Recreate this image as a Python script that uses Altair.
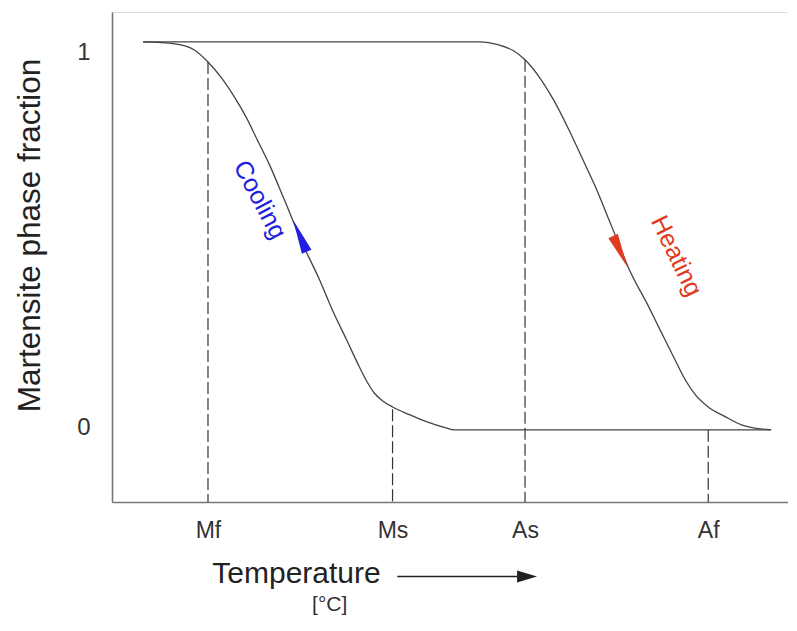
import altair as alt
import pandas as pd

# Hysteresis loop (temperature in arbitrary units 0-100, fraction 0-1)
heat_x = [4.6, 54.3, 57.2, 59.4, 61.1, 63.1, 65.3, 67.6, 69.8, 71.7, 73.5, 74.9, 76.4,
          79.4, 81.3, 83.3, 84.8, 86.3, 88.2, 90.7, 93.1, 95.6, 97.5]
heat_y = [1.0, 1.0, 0.992, 0.977, 0.954, 0.912, 0.851, 0.773, 0.691, 0.619, 0.542, 0.482,
          0.418, 0.317, 0.250, 0.180, 0.129, 0.090, 0.059, 0.034, 0.013, 0.003, 0.0]
cool_x = [97.5, 50.6, 49.4, 46.5, 44.0, 41.5, 40.0, 38.8, 37.5, 36.6, 34.7, 32.6, 30.7,
          28.2, 25.5, 23.3, 21.5, 19.9, 18.1, 16.2, 14.2, 12.2, 9.3, 4.6]
cool_y = [0.0, 0.0, 0.005, 0.021, 0.039, 0.059, 0.075, 0.095, 0.131, 0.162, 0.232, 0.309,
          0.387, 0.479, 0.593, 0.683, 0.747, 0.804, 0.858, 0.907, 0.948, 0.979, 0.995, 1.0]

# Transformation temperatures and where their dashed guides end
temp_names = ["Mf", "Ms", "As", "Af"]
temp_x = [14.2, 41.5, 61.1, 88.2]
temp_top = [0.948, 0.053, 0.954, 0.0]

y_min, y_max = -0.186, 1.077

# Direction arrows and labels on the curves
arrow_x = [27.8, 75.2]
arrow_y = [0.50, 0.459]
arrow_angle = [337, 155]
arrow_color = ["#2020e0", "#e03a22"]

note_text = ["Cooling", "Heating"]
note_x = [21.9, 83.5]
note_y = [0.593, 0.448]
note_angle = [62, 64]

# Temperature arrow and unit under the axis
t_arrow_x = [42.2, 60.9]
t_arrow_y = -0.378
t_head_x = 61.4
unit_x = 32.2
unit_y = -0.468

rows = []
for i, (x, y) in enumerate(zip(heat_x, heat_y)):
    rows.append({"branch": "heat", "i": i, "x": x, "y": y})
for i, (x, y) in enumerate(zip(cool_x, cool_y)):
    rows.append({"branch": "cool", "i": i, "x": x, "y": y})
curve = pd.DataFrame(rows)

guides = pd.DataFrame({"name": temp_names, "x": temp_x, "top": temp_top,
                       "bottom": [y_min] * len(temp_x)})
arrows = pd.DataFrame({"x": arrow_x, "y": arrow_y, "angle": arrow_angle, "color": arrow_color})
notes = pd.DataFrame({"text": note_text, "x": note_x, "y": note_y, "angle": note_angle,
                      "color": arrow_color})

label_expr = " : ".join(
    f"datum.value == {v} ? '{n}'" for v, n in zip(temp_x, temp_names)
) + " : ''"

xscale = alt.Scale(domain=[0, 100])
yscale = alt.Scale(domain=[y_min, y_max])

x_axis = alt.Axis(values=temp_x, labelExpr=label_expr, ticks=False, tickSize=0, grid=False,
                  labelPadding=17, labelFontSize=23, labelColor="#333", labelFont="Liberation Sans",
                  domainColor="#777", domainWidth=1.6, title="Temperature",
                  titleFontSize=30, titleFontWeight="normal", titleColor="#222",
                  titleX=184, titleY=80, titleAlign="center", titleBaseline="alphabetic",
                  titleFont="Liberation Sans")
y_axis = alt.Axis(values=[0, 1], format="d", ticks=False, tickSize=0, grid=False,
                  labelPadding=22, labelFontSize=24, labelColor="#333", labelFont="Liberation Sans",
                  labelOffset={"condition": {"test": "datum.value == 1", "value": 11}, "value": -2},
                  domainColor="#777", domainWidth=1.6, title="Martensite phase fraction",
                  titleFontSize=31.5, titleFontWeight="normal", titleColor="#222",
                  titleX=-82, titleY=223, titleAlign="center", titleBaseline="middle",
                  titleAngle=270, titleFont="Liberation Sans")

lines = alt.Chart(curve).mark_line(color="#444", strokeWidth=1.3, interpolate="monotone").encode(
    x=alt.X("x:Q", scale=xscale, axis=x_axis),
    y=alt.Y("y:Q", scale=yscale, axis=y_axis),
    detail="branch:N",
)

dashed = alt.Chart(guides).mark_rule(color="#333", strokeWidth=1.2, strokeDash=[12, 4]).encode(
    x=alt.X("x:Q", scale=xscale),
    y=alt.Y("top:Q", scale=yscale),
    y2="bottom:Q",
)

heads = alt.Chart(arrows).mark_point(shape="M0,-1L0.3,1L-0.3,1Z", filled=True, size=1200,
                                     opacity=1).encode(
    x=alt.X("x:Q", scale=xscale),
    y=alt.Y("y:Q", scale=yscale),
    angle=alt.Angle("angle:Q", scale=None),
    color=alt.Color("color:N", scale=None),
)

texts = alt.Chart(notes).mark_text(fontSize=25, align="center", baseline="middle",
                                   font="Liberation Sans").encode(
    x=alt.X("x:Q", scale=xscale),
    y=alt.Y("y:Q", scale=yscale),
    text="text:N",
    angle=alt.Angle("angle:Q", scale=None),
    color=alt.Color("color:N", scale=None),
)

t_arrow_df = pd.DataFrame({"x": [t_arrow_x[0]], "x2": [t_arrow_x[1]], "y": [t_arrow_y]})
t_line = alt.Chart(t_arrow_df).mark_rule(color="#222", strokeWidth=1.6).encode(
    x=alt.X("x:Q", scale=xscale), x2="x2:Q", y=alt.Y("y:Q", scale=yscale))
t_head = alt.Chart(pd.DataFrame({"x": [t_head_x], "y": [t_arrow_y]})).mark_point(
    shape="M0,-1L0.6,1L-0.6,1Z", filled=True, size=400, opacity=1, color="#222", angle=90
).encode(x=alt.X("x:Q", scale=xscale), y=alt.Y("y:Q", scale=yscale))

unit = alt.Chart(pd.DataFrame({"x": [unit_x], "y": [unit_y], "t": ["[°C]"]})).mark_text(
    fontSize=21, align="center", baseline="alphabetic", color="#333", font="Liberation Sans"
).encode(x=alt.X("x:Q", scale=xscale), y=alt.Y("y:Q", scale=yscale), text="t:N")

chart = alt.layer(dashed, lines, heads, texts, t_line, t_head, unit).properties(
    width=676, height=490,
    padding={"left": 104, "top": 4, "right": 0, "bottom": 115},
    autosize=alt.AutoSizeParams(type="none"),
).configure_view(stroke=None).configure(font="Liberation Sans", background="white")

chart.save("out.html", embed_options={"renderer": "svg", "actions": False})
